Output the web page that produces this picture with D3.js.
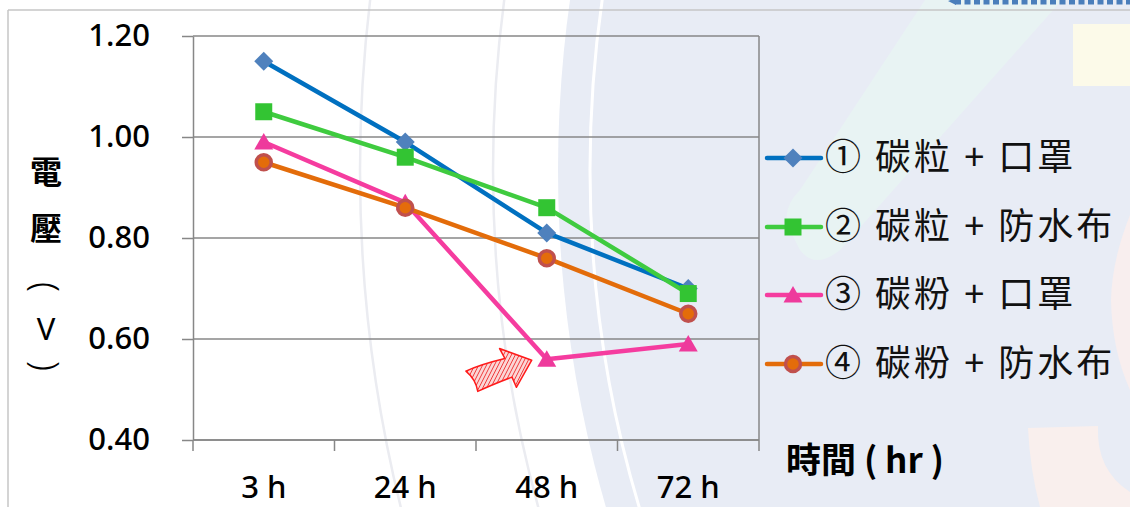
<!DOCTYPE html>
<html>
<head>
<meta charset="utf-8">
<script src="https://cdn.jsdelivr.net/npm/d3@7"></script>
<style>
  html, body { margin: 0; padding: 0; background: #ffffff; }
  svg { display: block; }
</style>
</head>
<body>
<svg id="chart" width="1130" height="507"></svg>
<script>
// Time points on the x axis
const categories = ["3 h", "24 h", "48 h", "72 h"];

// Measured voltage (V) for each combination
const seriesNames = ["① 碳粒 + 口罩", "② 碳粒 + 防水布", "③ 碳粉 + 口罩", "④ 碳粉 + 防水布"];
const s1Values = [1.15, 0.99, 0.81, 0.70];
const s2Values = [1.05, 0.96, 0.86, 0.69];
const s3Values = [0.99, 0.87, 0.56, 0.59];
const s4Values = [0.95, 0.86, 0.76, 0.65];

// Y axis ticks
const yTicks = [0.40, 0.60, 0.80, 1.00, 1.20];
const yTickLabels = ["0.40", "0.60", "0.80", "1.00", "1.20"];

const series = [
  { name: seriesNames[0], values: s1Values, line: "#0070c0", fill: "#4f81bd", stroke: "none", shape: "diamond" },
  { name: seriesNames[1], values: s2Values, line: "#3fcb3f", fill: "#33c433", stroke: "none", shape: "square" },
  { name: seriesNames[2], values: s3Values, line: "#f53c9f", fill: "#ee3a9c", stroke: "none", shape: "triangle" },
  { name: seriesNames[3], values: s4Values, line: "#e36c0a", fill: "#e46c0a", stroke: "#c0504d", shape: "circle" }
];

const svg = d3.select("#chart");
const W = 1130, H = 507;
const numFont = "'Noto Sans', sans-serif";
const cjk = "'Noto Sans CJK TC', 'Noto Sans', sans-serif";

// ---------- decorative backdrop ----------
const bg = svg.append("g");
bg.append("rect").attr("width", W).attr("height", H).attr("fill", "#ffffff");

// faint concentric arcs on the white side
[1408, 1275].forEach(r => {
  bg.append("circle").attr("cx", 1768).attr("cy", 170).attr("r", r)
    .attr("fill", "none").attr("stroke", "#ebecf1").attr("stroke-width", 2.5);
});
// tinted disc
bg.append("circle").attr("cx", 1768).attr("cy", 170).attr("r", 1210).attr("fill", "#e8ecf5");
// mint diagonal band
bg.append("path")
  .attr("d", "M925,0 L1062,0 L840,250 Q815,270 800,250 L790,230 Q780,210 800,190 Z")
  .attr("fill", "#e8f3f3");
// white inner arc
bg.append("circle").attr("cx", 1768).attr("cy", 170).attr("r", 1178)
  .attr("fill", "none").attr("stroke", "#ffffff").attr("stroke-width", 3);
// pale yellow block
bg.append("rect").attr("x", 1073).attr("y", 24).attr("width", 57).attr("height", 62).attr("fill", "#fcfae9");
// pale peach shapes
bg.append("path").attr("d", "M1130,215 Q1112,260 1111,300 Q1112,350 1130,390 Z").attr("fill", "#f8eeee");
bg.append("path").attr("d", "M1028,428 L1098,426 Q1096,470 1130,492 L1130,507 L1040,507 Q1030,470 1028,428 Z").attr("fill", "#f9efed");
// frame lines
bg.append("line").attr("x1", 8).attr("y1", 10).attr("x2", W).attr("y2", 10)
  .attr("stroke", "#c6c6c6").attr("stroke-width", 1.5);
bg.append("line").attr("x1", 8).attr("y1", 10).attr("x2", 8).attr("y2", H)
  .attr("stroke", "#c6c6c6").attr("stroke-width", 1.5);
// dotted blue rule at the top right
bg.append("line").attr("x1", 955).attr("y1", 2).attr("x2", W).attr("y2", 2)
  .attr("stroke", "#4a7ebb").attr("stroke-width", 5).attr("stroke-dasharray", "6,3.5");
bg.append("path").attr("d", "M948,1 L956,-2 L956,5 Z").attr("fill", "#4a7ebb");

// ---------- scales ----------
const plot = { left: 193, right: 759, top: 36, bottom: 440 };
const x = d3.scaleBand().domain(categories).range([plot.left, plot.right]);
const y = d3.scaleLinear().domain([0.4, 1.2]).range([plot.bottom, plot.top]);

const gridColor = "#878787";

// horizontal gridlines
svg.append("g").selectAll("line").data(yTicks).join("line")
  .attr("x1", plot.left).attr("x2", plot.right)
  .attr("y1", d => y(d)).attr("y2", d => y(d))
  .attr("stroke", gridColor).attr("stroke-width", 1.5);
// right border of the plot
svg.append("line").attr("x1", plot.right).attr("x2", plot.right)
  .attr("y1", plot.top).attr("y2", plot.bottom)
  .attr("stroke", gridColor).attr("stroke-width", 1.5);

// y axis
const yAxis = d3.axisLeft(y).tickValues(yTicks)
  .tickFormat((d, i) => yTickLabels[i]).tickSizeInner(11).tickSizeOuter(0).tickPadding(32);
const gy = svg.append("g").attr("transform", `translate(${plot.left},0)`).call(yAxis);
gy.select(".domain").attr("stroke", gridColor).attr("stroke-width", 1.5);
gy.selectAll(".tick line").attr("stroke", gridColor).attr("stroke-width", 1.5);
gy.selectAll(".tick text").attr("fill", "#000")
  .style("font-family", numFont).style("font-size", "31px").style("font-weight", "500");

// x axis: line, boundary ticks, centered labels
const gx = svg.append("g");
gx.append("line").attr("x1", plot.left).attr("x2", plot.right)
  .attr("y1", plot.bottom).attr("y2", plot.bottom)
  .attr("stroke", gridColor).attr("stroke-width", 1.5);
const bounds = categories.map(c => x(c)).concat([x.range()[1]]);
gx.selectAll("line.tk").data(bounds).join("line").attr("class", "tk")
  .attr("x1", d => d).attr("x2", d => d)
  .attr("y1", plot.bottom).attr("y2", plot.bottom + 11)
  .attr("stroke", gridColor).attr("stroke-width", 1.5);
gx.selectAll("text").data(categories).join("text")
  .attr("x", d => x(d) + x.bandwidth() / 2).attr("y", 498)
  .attr("text-anchor", "middle").attr("fill", "#000")
  .style("font-family", numFont).style("font-size", "31px").style("font-weight", "500")
  .style("white-space", "pre")
  .text(d => d);

// ---------- marker shapes ----------
function markerPath(shape) {
  switch (shape) {
    case "diamond": return "M0,-9.5 L9.5,0 L0,9.5 L-9.5,0 Z";
    case "square": return "M-8.5,-8.5 H8.5 V8.5 H-8.5 Z";
    case "triangle": return "M0,-9 L9.5,7.5 L-9.5,7.5 Z";
    default: return null;
  }
}
function drawMarker(g, s, cx, cy) {
  if (s.shape === "circle") {
    g.append("circle").attr("cx", cx).attr("cy", cy).attr("r", 7.5)
      .attr("fill", s.fill).attr("stroke", s.stroke).attr("stroke-width", 3.5);
  } else {
    g.append("path").attr("d", markerPath(s.shape))
      .attr("transform", `translate(${cx},${cy})`).attr("fill", s.fill);
  }
}

// ---------- series ----------
const line = d3.line()
  .x((d, i) => x(categories[i]) + x.bandwidth() / 2)
  .y(d => y(d));

series.forEach(s => {
  const g = svg.append("g");
  g.append("path").datum(s.values).attr("d", line)
    .attr("fill", "none").attr("stroke", s.line).attr("stroke-width", 4.5)
    .attr("stroke-linejoin", "round").attr("stroke-linecap", "round");
  s.values.forEach((v, i) => drawMarker(g, s, x(categories[i]) + x.bandwidth() / 2, y(v)));
});

// ---------- hatched red arrow pointing at the 48 h drop ----------
const defs = svg.append("defs");
const pat = defs.append("pattern").attr("id", "hatch").attr("patternUnits", "userSpaceOnUse")
  .attr("width", 3.5).attr("height", 3.5).attr("patternTransform", "rotate(45)");
pat.append("rect").attr("width", 3.5).attr("height", 3.5).attr("fill", "#fbd6d6");
pat.append("line").attr("x1", 0).attr("y1", 0).attr("x2", 0).attr("y2", 3.5)
  .attr("stroke", "#ee2a2a").attr("stroke-width", 1.6);
const tipX = x("48 h") + x.bandwidth() / 2 - 15;
const tipY = y(s3Values[2]) + 1;
svg.append("path")
  .attr("d", "M-66,-10 Q-50,-12 -25,-10 L-27,-21 L0,0 L-23,21 L-24,10 Q-45,11 -61,13 Q-59,1 -66,-10 Z")
  .attr("transform", `translate(${tipX},${tipY}) rotate(-18)`)
  .attr("fill", "url(#hatch)").attr("stroke", "#ff1a1a").attr("stroke-width", 1.5)
  .attr("stroke-linejoin", "round");

// ---------- legend ----------
const legend = svg.append("g");
const legendRows = [158, 227, 295, 364];
series.forEach((s, i) => {
  const ly = legendRows[i];
  legend.append("line").attr("x1", 767).attr("x2", 821).attr("y1", ly).attr("y2", ly)
    .attr("stroke", s.line).attr("stroke-width", 4.5).attr("stroke-linecap", "round");
  drawMarker(legend, s, 793, ly);
  legend.append("text").attr("x", 825).attr("y", ly + 12)
    .attr("fill", "#111")
    .style("font-family", cjk)
    .style("font-size", "36px").style("letter-spacing", "3px")
    .style("white-space", "pre")
    .text(s.name);
});

// ---------- axis titles ----------
svg.append("text").attr("x", 786).attr("y", 473)
  .attr("fill", "#000").style("font-family", cjk).style("font-size", "35px").style("font-weight", "bold")
  .style("white-space", "pre")
  .text("時間 ( hr )");

const yTitle = svg.append("g").attr("fill", "#000");
yTitle.append("text").attr("x", 46).attr("y", 184).attr("text-anchor", "middle")
  .style("font-family", cjk).style("font-size", "32px").style("font-weight", "bold").text("電");
yTitle.append("text").attr("x", 46).attr("y", 240).attr("text-anchor", "middle")
  .style("font-family", cjk).style("font-size", "32px").style("font-weight", "bold").text("壓");
// parentheses turned sideways for the vertical title
yTitle.append("text").attr("transform", "translate(46,287) rotate(90)")
  .attr("text-anchor", "middle").attr("dy", "0.35em")
  .style("font-family", numFont).style("font-size", "36px").style("font-weight", "300").text("(");
yTitle.append("text").attr("x", 46).attr("y", 340).attr("text-anchor", "middle")
  .style("font-family", numFont).style("font-size", "31px").text("V");
yTitle.append("text").attr("transform", "translate(46,366) rotate(90)")
  .attr("text-anchor", "middle").attr("dy", "0.35em")
  .style("font-family", numFont).style("font-size", "36px").style("font-weight", "300").text(")");
</script>
</body>
</html>
